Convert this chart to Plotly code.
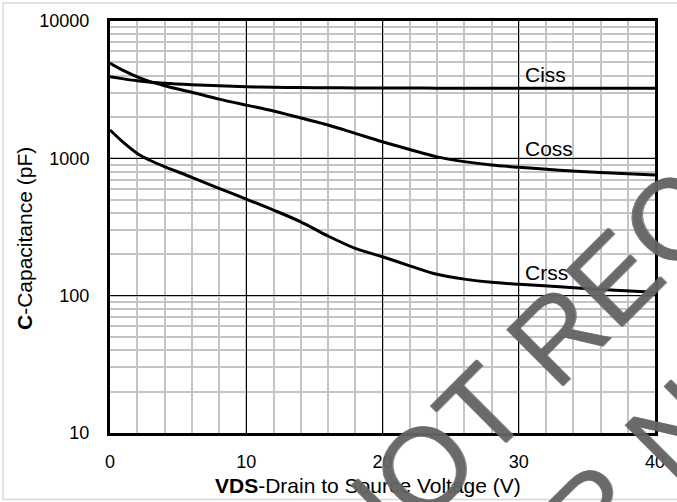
import math
import plotly.graph_objects as go

# ---- data ----
vds = [0, 1, 2, 3, 4, 6, 8, 10, 12, 14, 16, 18, 20, 22, 24, 26, 28, 30, 33, 36, 40]
ciss = [3930, 3790, 3670, 3580, 3515, 3435, 3380, 3320, 3290, 3275, 3265, 3258, 3252, 3248, 3245, 3242, 3240, 3238, 3236, 3234, 3232]
coss = [4920, 4350, 3920, 3600, 3380, 3030, 2700, 2440, 2210, 1965, 1750, 1520, 1320, 1160, 1025, 946, 893, 861, 820, 788, 757]
crss = [1607, 1300, 1085, 960, 870, 728, 605, 505, 420, 345, 272, 221, 192, 165, 143, 132, 125, 121, 116, 111, 106]

series_names = ["Ciss", "Coss", "Crss"]
label_pos = [(30.3, 4110), (30.3, 1189), (30.3, 147)]

x_ticks = [0, 10, 20, 30, 40]
y_ticks = [10, 100, 1000, 10000]
y_ticktext = ["10", "100", "1000", "10000"]

watermark_lines = ["NOT RECOMMENDED", "FOR NEW DESIGN"]

FONT = "Liberation Sans, Arial, Helvetica, sans-serif"

# plot area in pixels (for paper conversions)
W, H = 677, 502
L, R, T, B = 110, 655, 21, 433


def px(xp):
    return (xp - L) / (R - L)


def py(yp):
    return (B - yp) / (B - T)


fig = go.Figure()
for name, vals in zip(series_names, [ciss, coss, crss]):
    fig.add_trace(go.Scatter(
        x=vds, y=vals, mode="lines", name=name,
        line=dict(color="black", width=3, shape="spline", smoothing=0.8),
        showlegend=False, hoverinfo="skip",
    ))

annotations = []
for name, (lx, ly) in zip(series_names, label_pos):
    annotations.append(dict(
        x=lx, y=math.log10(ly), xref="x", yref="y", text=name, showarrow=False,
        xanchor="left", yanchor="middle",
        font=dict(family=FONT, size=21, color="black"),
    ))

# axis titles
annotations.append(dict(
    x=px(368), y=py(485), xref="paper", yref="paper",
    text="<b>VDS</b>-Drain to Source Voltage (V)", showarrow=False,
    xanchor="center", yanchor="middle",
    font=dict(family=FONT, size=21, color="black"),
))
annotations.append(dict(
    x=px(24), y=py(239), xref="paper", yref="paper",
    text="<b>C</b>-Capacitance (pF)", showarrow=False, textangle=-90,
    xanchor="center", yanchor="middle",
    font=dict(family=FONT, size=21, color="black"),
))

# watermark
for txt, (wx, wy) in zip(watermark_lines, [(760, 132), (812, 294)]):
    annotations.append(dict(
        x=px(wx), y=py(wy), xref="paper", yref="paper",
        text=txt, showarrow=False, textangle=-45,
        xanchor="center", yanchor="middle",
        font=dict(family=FONT, size=116, color="rgba(100,100,100,0.85)",
                  shadow="1px 1px 0 rgba(100,100,100,0.85)"),
    ))

shapes = [dict(
    type="rect", xref="paper", yref="paper",
    x0=px(3), x1=px(690), y0=py(499.5), y1=py(3),
    line=dict(color="#d9d9d9", width=1.5), fillcolor="rgba(0,0,0,0)",
    layer="below",
)]

fig.update_layout(
    width=W, height=H,
    margin=dict(l=L, r=W - R, t=T, b=H - B, pad=0),
    paper_bgcolor="white", plot_bgcolor="white",
    font=dict(family=FONT, size=18, color="black"),
    annotations=annotations,
    shapes=shapes,
    xaxis=dict(
        range=[0, 40], tickvals=x_ticks, ticks="",
        showgrid=True, gridcolor="black", gridwidth=1,
        minor=dict(dtick=2, showgrid=True, gridcolor="#c4c4c4", gridwidth=1.5),
        showline=True, linecolor="black", linewidth=3, mirror=True,
        zeroline=False, tickfont=dict(size=18, family=FONT),
        ticklabelstandoff=10,
    ),
    yaxis=dict(
        type="log", range=[1, 4], tickvals=y_ticks, ticktext=y_ticktext, ticks="",
        showgrid=True, gridcolor="black", gridwidth=1,
        minor=dict(dtick="D1", showgrid=True, gridcolor="#c4c4c4", gridwidth=1.5),
        showline=True, linecolor="black", linewidth=3, mirror=True,
        zeroline=False, tickfont=dict(size=18, family=FONT),
        ticklabelstandoff=14,
    ),
)

fig.write_html(
    "out.html",
    config={"displayModeBar": False},
    post_script="document.body.style.margin='0';document.body.style.padding='0';"
                "document.body.style.overflow='hidden';",
)
